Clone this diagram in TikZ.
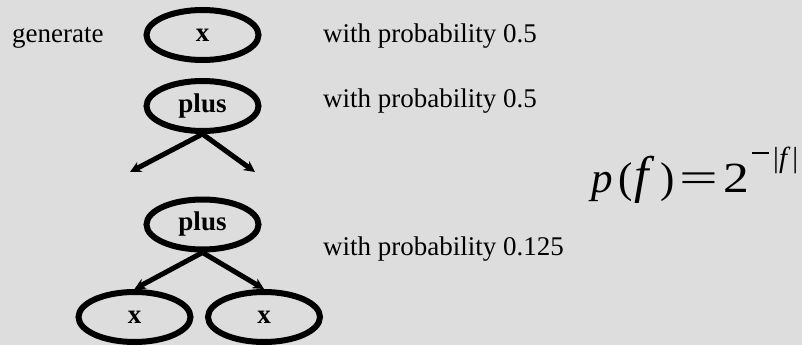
\documentclass[tikz,border=0pt]{standalone}
\usepackage{fontspec}
\setmainfont{Liberation Serif}
\usetikzlibrary{arrows.meta, positioning, shapes.geometric}
\definecolor{bggray}{HTML}{DDDDDD}

\begin{document}
\begin{tikzpicture}[
  x=1pt, y=-1pt,
  >={Stealth[length=11pt, width=11pt]},
  term/.style={
    ellipse, draw=black, line width=6pt,
    minimum width=112pt, minimum height=50pt,
    inner sep=0pt, font=\fontsize{27}{32}\selectfont\bfseries
  },
  arr/.style={->, line width=5pt, black},
  prob/.style={anchor=base west, inner sep=0pt, font=\fontsize{27}{32}\selectfont},
]

% Background
\fill[bggray] (0,0) rectangle (802,345);
\useasboundingbox (0,0) rectangle (802,345);

% =============================================
% single terminal
% =============================================
\node[prob] (gen) at (12,43) {generate};
\node[term] (genx) at (202.5,35) {x};
\node[prob] (p1) at (323,42) {with probability 0.5};

% =============================================
% function node with open branches
% =============================================
\node[term] (plustop) at (202.5,106) {plus};
\node[prob] (p2) at (323,107) {with probability 0.5};

\coordinate (openl) at (130,172);
\coordinate (openr) at (255,172);
\draw[arr] (plustop.south) -- (openl);
\draw[arr] (plustop.south) -- (openr);

% =============================================
% full tree
% =============================================
\node[term] (plusmid) at (202.5,224.5) {plus};
\node[term] (leftx) at (134.5,317) {x};
\node[term] (rightx) at (264,317) {x};

\draw[arr] (plusmid.south) -- (leftx.north);
\draw[arr] (plusmid.south) -- (rightx.north);

\node[prob] (p3) at (323,255) {with probability 0.125};

% Formula
\node[anchor=base west, inner sep=0pt, font=\fontsize{43}{48}\selectfont] (prior) at (591,192)
  {\textit{p}\hspace{6pt}(\hspace{1pt}\scalebox{1.2}{\textit{f}}\hspace{6pt})\hspace{5pt}\scalebox{1.6}[1]{=}\hspace{5pt}\scalebox{1.2}[1]{2}%
   \hspace{3pt}\rule[38pt]{17pt}{1.8pt}%
   \hspace{4pt}\raisebox{25pt}{\fontsize{29}{32}\selectfont |\textit{f}\hspace{2pt}|}};

\end{tikzpicture}
\end{document}
